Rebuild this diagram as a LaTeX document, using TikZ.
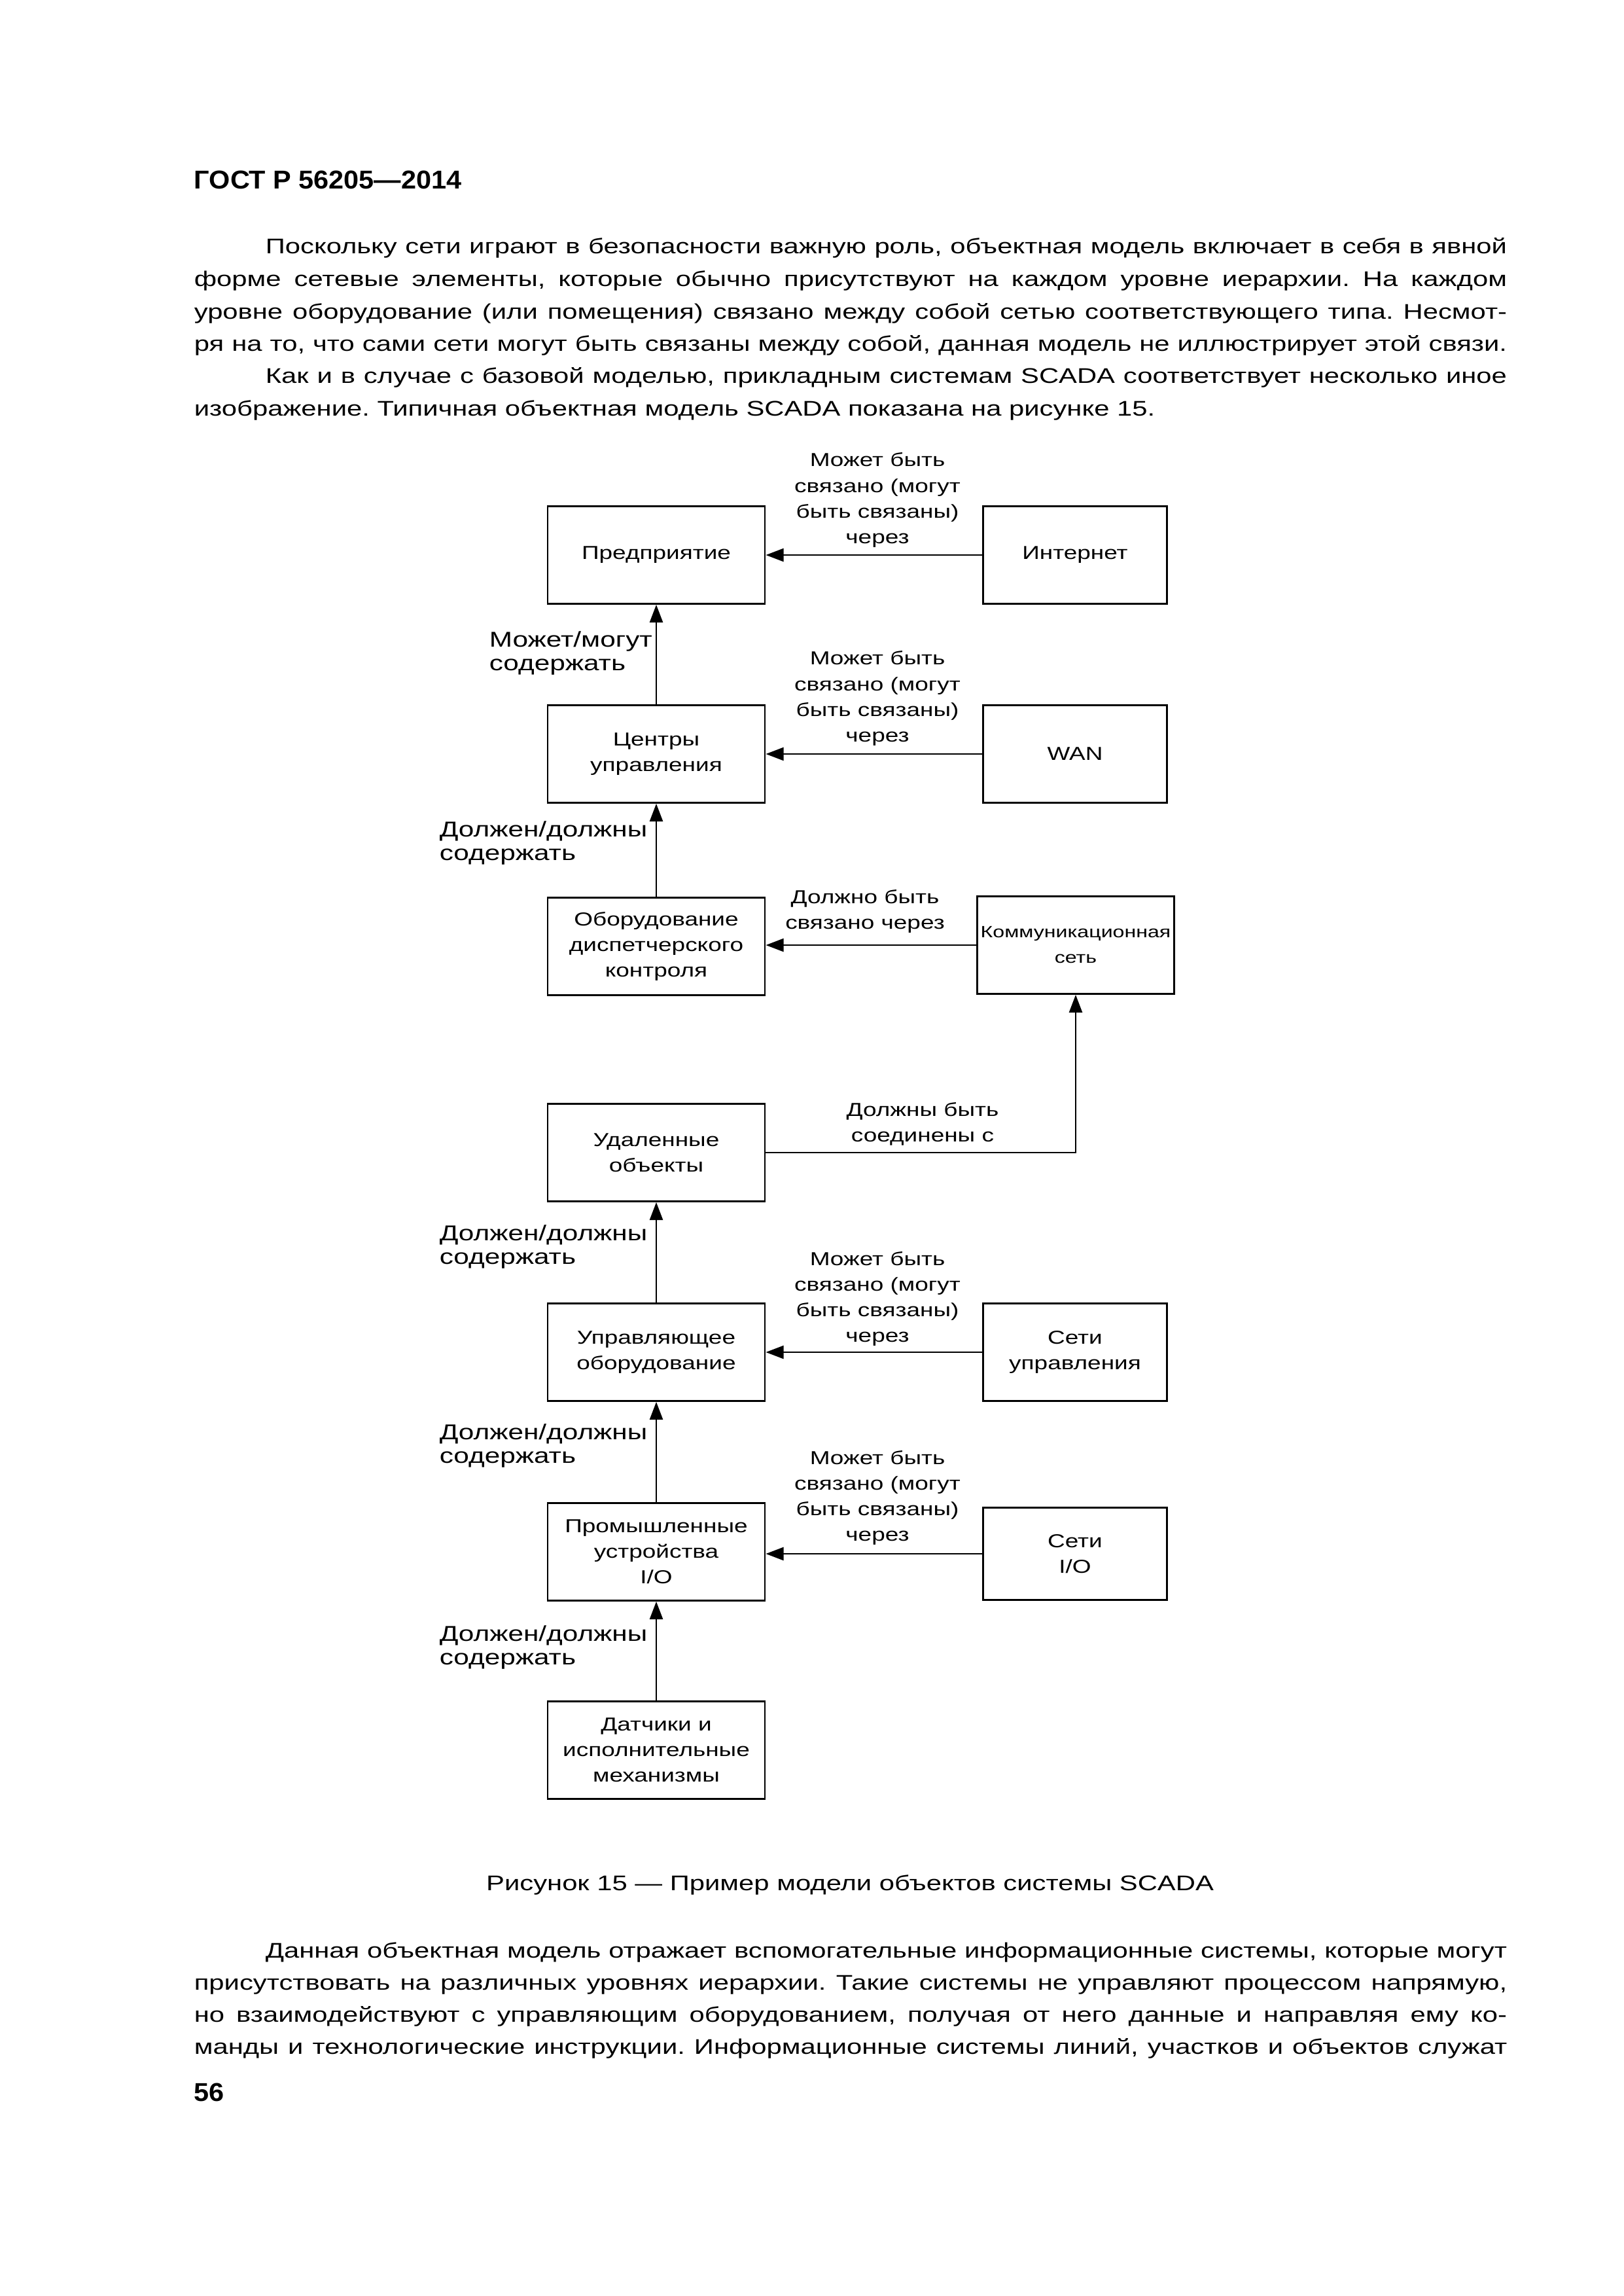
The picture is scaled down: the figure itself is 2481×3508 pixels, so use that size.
\documentclass[tikz,border=0pt]{standalone}
\usepackage{fontspec}
\setmainfont{Liberation Sans}
\newfontfamily\wfont{Liberation Sans}[FakeStretch=1.29]
\newfontfamily\hfont{Liberation Sans}[FakeStretch=1.05]
\frenchspacing
\usetikzlibrary{arrows.meta}
\begin{document}
\begin{tikzpicture}[x=0.084643mm,y=-0.084643mm,
  lbox/.style={draw, line width=0.25mm, minimum width=28.1mm, minimum height=12.6mm, inner sep=0pt, align=center, font=\wfont\fontsize{6.9}{9.4}\selectfont},
  rbox/.style={draw, line width=0.25mm, minimum width=23.8mm, minimum height=12.6mm, inner sep=0pt, align=center, font=\wfont\fontsize{6.9}{9.4}\selectfont},
  lab/.style={align=center, inner sep=0pt, font=\wfont\fontsize{6.9}{9.4}\selectfont},
  llab/.style={align=left, anchor=west, inner sep=0pt, font=\wfont\fontsize{7.9}{8.9}\selectfont},
  arr/.style={line width=0.2mm, -{Triangle[length=2.3mm,width=1.7mm]}},
  txt/.style={anchor=base west, inner sep=0pt, font=\wfont\fontsize{7.8}{12}\selectfont},
  htxt/.style={anchor=base west, inner sep=0pt, font=\hfont\fontsize{9.5}{12}\bfseries}
]
\fill[white] (0,0) rectangle (2481,3508);
\useasboundingbox (0,0) rectangle (2481,3508);

% header and text above
\node[htxt] (hdr) at (296,288) {ГОСТ Р 56205—2014};
\node[txt] (a1) at (405,387) {\hbox to 160.57mm{Поскольку сети играют в безопасности важную роль, объектная модель включает в себя в явной}};
\node[txt] (a2) at (296,437) {\hbox to 169.8mm{форме сетевые элементы, которые обычно присутствуют на каждом уровне иерархии. На каждом}};
\node[txt] (a3) at (296,487) {\hbox to 169.8mm{уровне оборудование (или помещения) связано между собой сетью соответствующего типа. Несмот-}};
\node[txt] (a4) at (296,536) {\hbox to 169.8mm{ря на то, что сами сети могут быть связаны между собой, данная модель не иллюстрирует этой связи.}};
\node[txt] (a5) at (405,585) {\hbox to 160.57mm{Как и в случае с базовой моделью, прикладным системам SCADA соответствует несколько иное}};
\node[txt] (a6) at (296,635) {изображение. Типичная объектная модель SCADA показана на рисунке 15.};

% boxes
\node[lbox] (pred) at (1003,848) {Предприятие};
\node[lbox] (cent) at (1003,1152) {Центры\\управления};
\node[lbox] (obor) at (1003,1446) {Оборудование\\диспетчерского\\контроля};
\node[lbox] (udal) at (1003,1761) {Удаленные\\объекты};
\node[lbox] (uprav) at (1003,2066) {Управляющее\\оборудование};
\node[lbox] (prom) at (1003,2371) {Промышленные\\устройства\\I/O};
\node[lbox] (dat) at (1003,2674) {Датчики и\\исполнительные\\механизмы};

\node[rbox] (inet) at (1643,848) {Интернет};
\node[rbox] (wan) at (1643,1152) {WAN};
\node[rbox, minimum width=25.4mm, font=\wfont\fontsize{6}{9.4}\selectfont] (comm) at (1644,1444) {Коммуникационная\\сеть};
\node[rbox] (setu) at (1643,2066) {Сети\\управления};
\node[rbox, minimum height=11.9mm] (setio) at (1643,2374) {Сети\\I/O};

% arrows
\draw[arr] (inet.west) -- (pred.east);
\draw[arr] (wan.west) -- (cent.east);
\draw[arr] (comm.west) -- (comm.west -| obor.east);
\draw[arr] (udal.east) -| (comm.south);
\draw[arr] (setu.west) -- (uprav.east);
\draw[arr] (setio.west) -- (setio.west -| prom.east);

\draw[arr] (cent.north) -- (pred.south);
\draw[arr] (obor.north) -- (cent.south);
\draw[arr] (uprav.north) -- (udal.south);
\draw[arr] (prom.north) -- (uprav.south);
\draw[arr] (dat.north) -- (prom.south);

% labels
\node[lab] (l1) at (1341,764) {Может быть\\связано (могут\\быть связаны)\\через};
\node[lab] (l2) at (1341,1067) {Может быть\\связано (могут\\быть связаны)\\через};
\node[lab] (l3) at (1322,1392) {Должно быть\\связано через};
\node[lab] (l4) at (1410,1717) {Должны быть\\соединены с};
\node[lab] (l5) at (1341,1984) {Может быть\\связано (могут\\быть связаны)\\через};
\node[lab] (l6) at (1341,2288) {Может быть\\связано (могут\\быть связаны)\\через};

\node[llab] (c1) at (747,998) {Может/могут\\содержать};
\node[llab] (c2) at (671,1288) {Должен/должны\\содержать};
\node[llab] (c3) at (671,1905) {Должен/должны\\содержать};
\node[llab] (c4) at (671,2209) {Должен/должны\\содержать};
\node[llab] (c5) at (671,2517) {Должен/должны\\содержать};

% caption and text below
\node[anchor=base, inner sep=0pt, font=\wfont\fontsize{7.8}{12}\selectfont] (cap) at (1299,2888) {Рисунок 15 — Пример модели объектов системы SCADA};
\node[txt] (b1) at (405,2991) {\hbox to 160.57mm{Данная объектная модель отражает вспомогательные информационные системы, которые могут}};
\node[txt] (b2) at (296,3040) {\hbox to 169.8mm{присутствовать на различных уровнях иерархии. Такие системы не управляют процессом напрямую,}};
\node[txt] (b3) at (296,3089) {\hbox to 169.8mm{но взаимодействуют с управляющим оборудованием, получая от него данные и направляя ему ко-}};
\node[txt] (b4) at (296,3138) {\hbox to 169.8mm{манды и технологические инструкции. Информационные системы линий, участков и объектов служат}};
\node[htxt] (pg) at (296,3210) {56};
\end{tikzpicture}
\end{document}
